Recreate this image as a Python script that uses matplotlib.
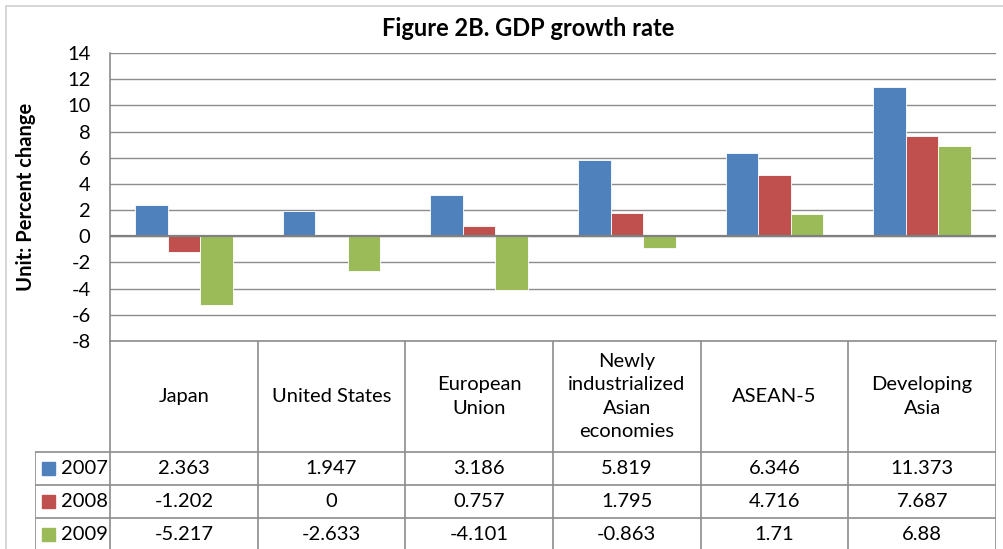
import matplotlib
matplotlib.use("Agg")
import matplotlib.pyplot as plt
from matplotlib.patches import Rectangle
from matplotlib.lines import Line2D

plt.rcParams['font.family'] = ['Lato', 'DejaVu Sans']

categories = ["Japan", "United States", "European\nUnion",
              "Newly\nindustrialized\nAsian\neconomies", "ASEAN-5",
              "Developing\nAsia"]
years = ["2007", "2008", "2009"]
growth_2007 = [2.363, 1.947, 3.186, 5.819, 6.346, 11.373]
growth_2008 = [-1.202, 0, 0.757, 1.795, 4.716, 7.687]
growth_2009 = [-5.217, -2.633, -4.101, -0.863, 1.71, 6.88]
yticks = list(range(-8, 15, 2))

series = [growth_2007, growth_2008, growth_2009]
colors = ["#4F81BD", "#C0504D", "#9BBB59"]

FS = 14.5

W, H = 1004, 549
fig = plt.figure(figsize=(W / 100, H / 100), dpi=100)

def fx(px):
    return px / W

def fy(py):
    return 1 - py / H

# outer chart border
fig.patches.append(Rectangle((fx(6), fy(H + 10)), fx(W + 10) - fx(6),
                             fy(6) - fy(H + 10), transform=fig.transFigure,
                             fill=False, edgecolor="#d0d0d0", lw=1.2))

left, right, top, bottom = 110, 996, 53, 341
ax = fig.add_axes([fx(left), fy(bottom), fx(right) - fx(left), fy(top) - fy(bottom)])

n = len(categories)
bw = 0.221
for k, (vals, c) in enumerate(zip(series, colors)):
    xs = [i + (k - 1) * bw for i in range(n)]
    ax.bar(xs, vals, width=bw, color=c, edgecolor="#ffffff", linewidth=0.6,
           zorder=3)

ax.set_xlim(-0.5, n - 0.5)
ax.set_ylim(-8, 14)
ax.set_yticks(yticks)
ax.set_yticklabels([str(t) for t in yticks], fontsize=FS)
ax.tick_params(axis="y", length=0, pad=14)
ax.set_xticks([])
ax.grid(axis="y", color="#8c8c8c", lw=1.0, zorder=0)
ax.axhline(0, color="#808080", lw=1.6, zorder=4)
for s in ["top", "right"]:
    ax.spines[s].set_visible(False)
ax.spines["left"].set_color("#8c8c8c")
ax.spines["bottom"].set_color("#8c8c8c")
ax.spines["left"].set_linewidth(1.2)
ax.spines["bottom"].set_linewidth(1.2)

fig.text(fx(528), fy(29), "Figure 2B. GDP growth rate", fontsize=17,
         fontweight="bold", ha="center", va="center")
fig.text(fx(26), fy(197), "Unit: Percent change", fontsize=FS,
         fontweight="bold", ha="center", va="center", rotation=90)

# data table under the plot
tab = fig.add_axes([fx(35), 0, fx(right) - fx(35), fy(bottom)])
tab.set_xlim(35, right)
tab.set_ylim(H, bottom)
tab.axis("off")
line_kw = dict(color="#8c8c8c", lw=1.2)
col_w = (right - left) / n
col_edges = [left + i * col_w for i in range(n + 1)]
for x in col_edges:
    tab.add_line(Line2D([x, x], [bottom, H + 5], **line_kw))
row_edges = [452, 485, 518]
for y in row_edges:
    tab.add_line(Line2D([35, right], [y, y], **line_kw))
tab.add_line(Line2D([35, 35], [452, H + 5], **line_kw))

for i, name in enumerate(categories):
    cx = (col_edges[i] + col_edges[i + 1]) / 2
    tab.text(cx, (bottom + 452) / 2, name, ha="center", va="center",
             fontsize=FS, linespacing=1.45)

for r, (yr, vals, c) in enumerate(zip(years, series, colors)):
    cy = (row_edges[r] + (row_edges[r + 1] if r + 1 < len(row_edges) else 551)) / 2
    tab.add_patch(Rectangle((42, cy - 6.5), 13, 13, color=c))
    tab.text(61, cy, yr, ha="left", va="center", fontsize=FS)
    for i, v in enumerate(vals):
        cx = (col_edges[i] + col_edges[i + 1]) / 2
        tab.text(cx, cy, f"{v:g}", ha="center", va="center", fontsize=FS)

fig.savefig("out.png", dpi=100)
